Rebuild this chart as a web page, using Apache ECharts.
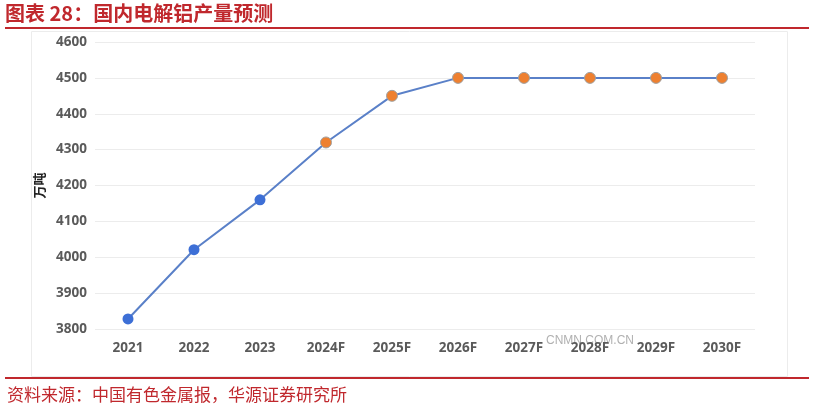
<!DOCTYPE html>
<html><head><meta charset="utf-8">
<script src="https://cdn.jsdelivr.net/npm/echarts@6/dist/echarts.min.js"></script>
<style>html,body{margin:0;padding:0;background:#fff}#c{width:815px;height:411px}</style>
</head><body><div id="c"></div>
<script>
const categories = ['2021','2022','2023','2024F','2025F','2026F','2027F','2028F','2029F','2030F'];
const production = [3828, 4021, 4160, 4320, 4450, 4500, 4500, 4500, 4500, 4500];
const actualCount = 3;
const yTicks = {min: 3800, max: 4600, interval: 100};
const titleText = '图表 28：国内电解铝产量预测';
const sourceText = '资料来源：中国有色金属报，华源证券研究所';
const unitText = '万吨';

const blue = '#3d6fd6', orange = '#ee8030';
const chart = echarts.init(document.getElementById('c'), null, {renderer:'canvas'});
chart.setOption({
  animation: false,
  graphic: [
    {type:'text', left: 5, top: 3, style:{text: titleText, fill:'#c0282d', font:'bold 20px "Noto Sans CJK SC"'}},
    {type:'rect', shape:{x:5, y:27, width:804, height:2}, style:{fill:'#c0282d'}},
    {type:'rect', shape:{x:31.5, y:31.5, width:756, height:345}, style:{fill:'none', stroke:'#ececec', lineWidth:1}},
    {type:'rect', shape:{x:5, y:377, width:804, height:2}, style:{fill:'#c0282d'}},
    {type:'text', left: 7, top: 386, style:{text: sourceText, fill:'#c0282d', font:'17px "Noto Sans CJK SC"'}},
    {type:'text', left: 546, top: 335, style:{text: 'CNMN.COM.CN', fill:'rgba(150,150,150,0.75)', font:'12px "Liberation Sans"'}}
  ],
  grid: {left: 95, right: 60, top: 42, bottom: 82},
  xAxis: {
    type:'category', data: categories, boundaryGap: true,
    axisLine:{show:false}, axisTick:{show:false},
    axisLabel:{color:'#5a5a5a', fontWeight:'bold', fontSize:13.5, margin:12, fontFamily:'"Noto Sans", sans-serif'}
  },
  yAxis: {
    type:'value', min: yTicks.min, max: yTicks.max, interval: yTicks.interval,
    name: unitText, nameLocation:'middle', nameGap: 43, nameRotate: 90,
    nameTextStyle:{color:'#222', fontWeight:'bold', fontSize:13, fontFamily:'"Noto Sans CJK SC"'},
    axisLine:{show:false}, axisTick:{show:false},
    splitLine:{lineStyle:{color:'#ececec', width:1}},
    axisLabel:{color:'#5a5a5a', fontWeight:'bold', fontSize:13.5, margin:8, formatter: v => String(v), fontFamily:'"Noto Sans", sans-serif'}
  },
  series: [{
    type:'line', data: production.map((v,i)=>({value:v, itemStyle: i<actualCount ? {color:blue, borderColor:blue, borderWidth:0} : {color:orange, borderColor:'#a0a0a0', borderWidth:1}})),
    symbol:'circle', symbolSize: 11,
    lineStyle:{color:'#5a80c8', width:2}
  }]
});
</script></body></html>
